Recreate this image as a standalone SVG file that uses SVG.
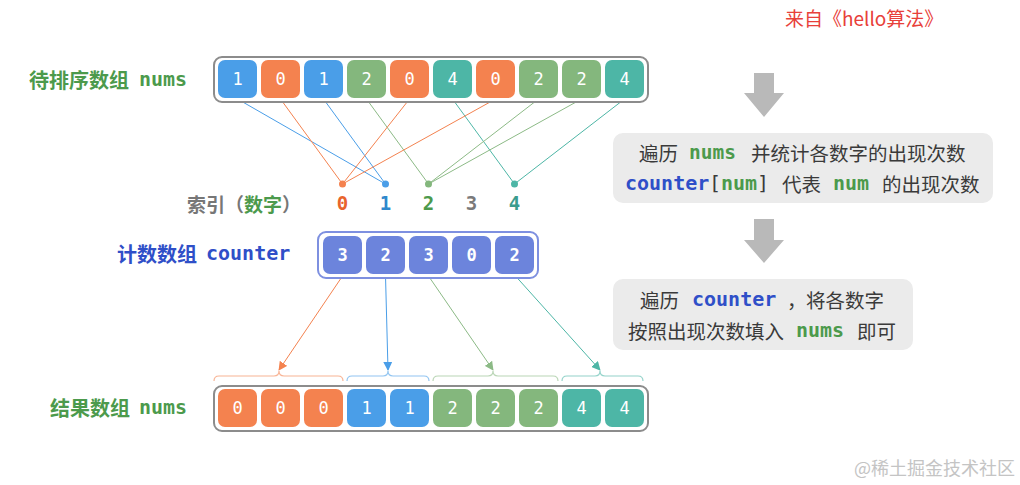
<svg xmlns="http://www.w3.org/2000/svg" width="1020" height="485" viewBox="0 0 1020 485">
<style>
.cjk{font-family:"Noto Sans CJK SC","Noto Sans",sans-serif;dominant-baseline:central}
.mono{font-family:"DejaVu Sans Mono","Liberation Mono",monospace;dominant-baseline:central}
.b{font-weight:bold}
.lbl{font-size:20px}
.txt{font-size:19.5px;fill:#3a3a3a}
.frame{fill:#fff;stroke:#8c8c8c;stroke-width:2}
.cframe{fill:#fff;stroke:#7e90e0;stroke-width:2}
.cell{stroke:none}
.c0{fill:#f4824f}.c1{fill:#4a9ee8}.c2{fill:#84b77d}.c4{fill:#4db6a6}.cc{fill:#6c84dc}
.d{fill:#fff;font-size:17px;text-anchor:middle}
.l0{stroke:#f4824f}.l1{stroke:#4a9ee8}.l2{stroke:#8cba86}.l4{stroke:#4db6a6}
.ln{fill:none;stroke-width:1}
.br{fill:none;stroke-width:1.2;opacity:0.6}
.gar{fill:#b9b9b9}
.box{fill:#ebebeb}
.g{fill:#4c9a4c}.bl{fill:#2f4fc8}
</style>
<defs>
<marker id="a0" viewBox="0 0 10 10" refX="9" refY="5" markerWidth="9" markerHeight="9" markerUnits="userSpaceOnUse" orient="auto"><path d="M0,0 L10,5 L0,10 z" fill="#f4824f"/></marker>
<marker id="a1" viewBox="0 0 10 10" refX="9" refY="5" markerWidth="9" markerHeight="9" markerUnits="userSpaceOnUse" orient="auto"><path d="M0,0 L10,5 L0,10 z" fill="#4a9ee8"/></marker>
<marker id="a2" viewBox="0 0 10 10" refX="9" refY="5" markerWidth="9" markerHeight="9" markerUnits="userSpaceOnUse" orient="auto"><path d="M0,0 L10,5 L0,10 z" fill="#8cba86"/></marker>
<marker id="a4" viewBox="0 0 10 10" refX="9" refY="5" markerWidth="9" markerHeight="9" markerUnits="userSpaceOnUse" orient="auto"><path d="M0,0 L10,5 L0,10 z" fill="#4db6a6"/></marker>
</defs>
<rect width="1020" height="485" fill="#fff"/>

<g id="connectors">
<line class="ln l1" x1="237.5" y1="99" x2="385.5" y2="184"/>
<line class="ln l0" x1="280.5" y1="99" x2="342.5" y2="184"/>
<line class="ln l1" x1="323.5" y1="99" x2="385.5" y2="184"/>
<line class="ln l2" x1="366.5" y1="99" x2="428.5" y2="184"/>
<line class="ln l0" x1="409.5" y1="99" x2="342.5" y2="184"/>
<line class="ln l4" x1="452.5" y1="99" x2="514.5" y2="184"/>
<line class="ln l0" x1="495.5" y1="99" x2="342.5" y2="184"/>
<line class="ln l2" x1="538.5" y1="99" x2="428.5" y2="184"/>
<line class="ln l2" x1="581.5" y1="99" x2="428.5" y2="184"/>
<line class="ln l4" x1="624.5" y1="99" x2="514.5" y2="184"/>
<line class="ln l0" x1="342.5" y1="276" x2="279" y2="370" marker-end="url(#a0)"/>
<line class="ln l1" x1="385.5" y1="276" x2="388" y2="370" marker-end="url(#a1)"/>
<line class="ln l2" x1="428.5" y1="276" x2="493" y2="370" marker-end="url(#a2)"/>
<line class="ln l4" x1="515.5" y1="276" x2="600" y2="370" marker-end="url(#a4)"/>
<path class="br l0" d="M214,381 Q214,376 219,376 L274,376 Q279,376 279,371 Q279,376 284,376 L338,376 Q343,376 343,381"/>
<path class="br l1" d="M347,381 Q347,376 352,376 L383,376 Q388,376 388,371 Q388,376 393,376 L424,376 Q429,376 429,381"/>
<path class="br l2" d="M433,381 Q433,376 438,376 L488,376 Q493,376 493,371 Q493,376 498,376 L553,376 Q558,376 558,381"/>
<path class="br l4" d="M562,381 Q562,376 567,376 L595,376 Q600,376 600,371 Q600,376 605,376 L638,376 Q643,376 643,381"/>
</g>

<g id="title">
<text class="cjk" x="785" y="17.5" font-size="19" fill="#e8403a">来自《hello算法》</text>
</g>

<g id="label-input">
<text class="cjk lbl b g" x="29" y="79">待排序数组</text>
<text class="mono lbl b g" x="139" y="79">nums</text>
</g>

<g id="nums-input">
<rect class="frame" x="214" y="57" width="434" height="45" rx="8"/>
<rect class="cell c1" x="218" y="60" width="39" height="38" rx="7"/><text class="mono d" x="237.5" y="79">1</text>
<rect class="cell c0" x="261" y="60" width="39" height="38" rx="7"/><text class="mono d" x="280.5" y="79">0</text>
<rect class="cell c1" x="304" y="60" width="39" height="38" rx="7"/><text class="mono d" x="323.5" y="79">1</text>
<rect class="cell c2" x="347" y="60" width="39" height="38" rx="7"/><text class="mono d" x="366.5" y="79">2</text>
<rect class="cell c0" x="390" y="60" width="39" height="38" rx="7"/><text class="mono d" x="409.5" y="79">0</text>
<rect class="cell c4" x="433" y="60" width="39" height="38" rx="7"/><text class="mono d" x="452.5" y="79">4</text>
<rect class="cell c0" x="476" y="60" width="39" height="38" rx="7"/><text class="mono d" x="495.5" y="79">0</text>
<rect class="cell c2" x="519" y="60" width="39" height="38" rx="7"/><text class="mono d" x="538.5" y="79">2</text>
<rect class="cell c2" x="562" y="60" width="39" height="38" rx="7"/><text class="mono d" x="581.5" y="79">2</text>
<rect class="cell c4" x="605" y="60" width="39" height="38" rx="7"/><text class="mono d" x="624.5" y="79">4</text>
</g>

<g id="index">
<text class="cjk b" x="187" y="203" font-size="19" fill="#777">索引（<tspan fill="#4c9a4c">数字</tspan>）</text>
<circle cx="342.5" cy="184" r="3.5" fill="#f4824f"/>
<circle cx="385.5" cy="184" r="3.5" fill="#4a9ee8"/>
<circle cx="428.5" cy="184" r="3.5" fill="#84b77d"/>
<circle cx="514.5" cy="184" r="3.5" fill="#4db6a6"/>
<text class="mono b" x="342.5" y="203" font-size="19" text-anchor="middle" fill="#e8642c">0</text>
<text class="mono b" x="385.5" y="203" font-size="19" text-anchor="middle" fill="#2f88cc">1</text>
<text class="mono b" x="428.5" y="203" font-size="19" text-anchor="middle" fill="#4c9a4c">2</text>
<text class="mono b" x="471.5" y="203" font-size="19" text-anchor="middle" fill="#7a7a7a">3</text>
<text class="mono b" x="514.5" y="203" font-size="19" text-anchor="middle" fill="#3a9c8e">4</text>
</g>

<g id="label-counter">
<text class="cjk lbl b bl" x="117" y="253">计数数组</text>
<text class="mono lbl b bl" x="206" y="253">counter</text>
</g>

<g id="counter">
<rect class="cframe" x="318" y="232" width="220" height="46" rx="8"/>
<rect class="cell cc" x="323" y="236" width="39" height="38" rx="7"/><text class="mono d b" x="342.5" y="255">3</text>
<rect class="cell cc" x="366" y="236" width="39" height="38" rx="7"/><text class="mono d b" x="385.5" y="255">2</text>
<rect class="cell cc" x="409" y="236" width="39" height="38" rx="7"/><text class="mono d b" x="428.5" y="255">3</text>
<rect class="cell cc" x="452" y="236" width="39" height="38" rx="7"/><text class="mono d b" x="471.5" y="255">0</text>
<rect class="cell cc" x="495" y="236" width="39" height="38" rx="7"/><text class="mono d b" x="514.5" y="255">2</text>
</g>

<g id="label-result">
<text class="cjk lbl b g" x="50" y="407">结果数组</text>
<text class="mono lbl b g" x="139" y="407">nums</text>
</g>

<g id="nums-result">
<rect class="frame" x="214" y="386" width="434" height="45" rx="8"/>
<rect class="cell c0" x="218" y="389" width="39" height="38" rx="7"/><text class="mono d" x="237.5" y="408">0</text>
<rect class="cell c0" x="261" y="389" width="39" height="38" rx="7"/><text class="mono d" x="280.5" y="408">0</text>
<rect class="cell c0" x="304" y="389" width="39" height="38" rx="7"/><text class="mono d" x="323.5" y="408">0</text>
<rect class="cell c1" x="347" y="389" width="39" height="38" rx="7"/><text class="mono d" x="366.5" y="408">1</text>
<rect class="cell c1" x="390" y="389" width="39" height="38" rx="7"/><text class="mono d" x="409.5" y="408">1</text>
<rect class="cell c2" x="433" y="389" width="39" height="38" rx="7"/><text class="mono d" x="452.5" y="408">2</text>
<rect class="cell c2" x="476" y="389" width="39" height="38" rx="7"/><text class="mono d" x="495.5" y="408">2</text>
<rect class="cell c2" x="519" y="389" width="39" height="38" rx="7"/><text class="mono d" x="538.5" y="408">2</text>
<rect class="cell c4" x="562" y="389" width="39" height="38" rx="7"/><text class="mono d" x="581.5" y="408">4</text>
<rect class="cell c4" x="605" y="389" width="39" height="38" rx="7"/><text class="mono d" x="624.5" y="408">4</text>
</g>

<g id="arrow1">
<polygon class="gar" points="754,73 774,73 774,93 784,93 764,117 744,93 754,93"/>
</g>

<g id="step1">
<rect class="box" x="613" y="133" width="380" height="70" rx="10"/>
<text class="cjk txt" x="639" y="152">遍历</text>
<text class="mono txt b" x="689" y="152" font-size="20" fill="#4c9a4c" style="fill:#4c9a4c">nums</text>
<text class="cjk txt" x="751" y="152">并统计各数字的出现次数</text>
<text class="mono txt b" x="625" y="183" style="font-size:20px;fill:#2f4fc8">counter</text>
<text class="mono txt" x="709" y="183" style="font-size:20px">[</text>
<text class="mono txt b" x="721" y="183" style="font-size:20px;fill:#4c9a4c">num</text>
<text class="mono txt" x="757" y="183" style="font-size:20px">]</text>
<text class="cjk txt" x="782" y="183">代表</text>
<text class="mono txt b" x="833" y="183" style="font-size:20px;fill:#4c9a4c">num</text>
<text class="cjk txt" x="882" y="183">的出现次数</text>
</g>

<g id="arrow2">
<polygon class="gar" points="754,219 774,219 774,240 784,240 764,263 744,240 754,240"/>
</g>

<g id="step2">
<rect class="box" x="613" y="279" width="300" height="71" rx="10"/>
<text class="cjk txt" x="640" y="299">遍历</text>
<text class="mono txt b" x="692" y="299" style="font-size:20px;fill:#2f4fc8">counter</text>
<text class="cjk txt" x="787" y="299">，</text>
<text class="cjk txt" x="806" y="299">将各数字</text>
<text class="cjk txt" x="628" y="330">按照出现次数填入</text>
<text class="mono txt b" x="796" y="330" style="font-size:20px;fill:#4c9a4c">nums</text>
<text class="cjk txt" x="857" y="330">即可</text>
</g>

<g id="watermark">
<text class="cjk" x="854" y="467" font-size="18" fill="#c4c4c4">@稀土掘金技术社区</text>
</g>
</svg>
